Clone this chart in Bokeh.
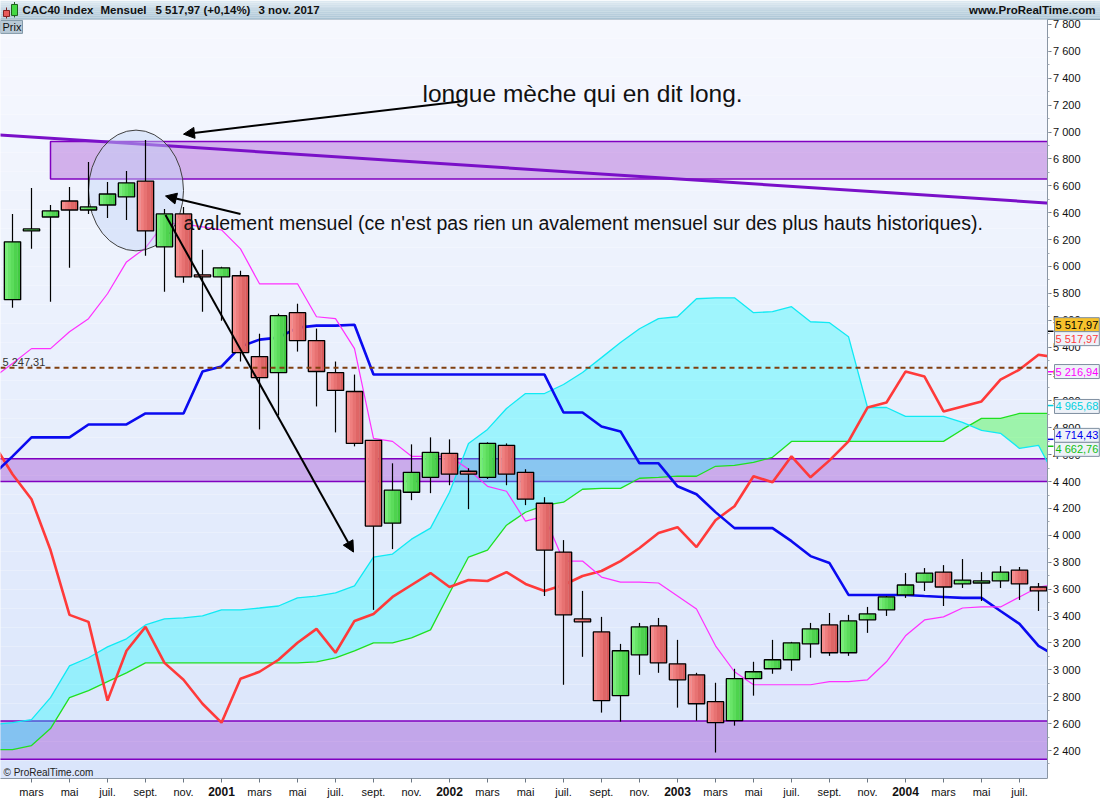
import numpy as np
from bokeh.plotting import figure
from bokeh.models import Range1d, FixedTicker, Label, Arrow, NormalHead, LinearAxis
from bokeh.core.properties import value
from bokeh.embed import file_html
from bokeh.resources import INLINE

FONT = "Liberation Sans"

# ---------------- data (month index: 0 = janv. 2000, 1 = févr. 2000, ...) ----------------
candle_month = list(range(1, 56))
opens = [5753, 6264, 6368, 6487, 6420, 6457, 6517, 6635, 6146, 6391,
         5938, 5923, 5931, 5330, 5211, 5656, 5449, 5211, 5070, 4707,
         4091, 4321, 4432, 4610, 4477, 4432, 4670, 4469, 4239, 3876,
         3379, 3282, 2808, 3112, 3327, 3045, 2963, 2763, 2622, 2934,
         3008, 3075, 3193, 3334, 3127, 3372, 3446, 3557, 3653, 3727,
         3639, 3646, 3661, 3742, 3616]
highs = [6391, 6583, 6457, 6591, 6776, 6628, 6710, 6940, 6428, 6443,
         6124, 5997, 5968, 5500, 5649, 5723, 5538, 5293, 5196, 4707,
         4536, 4677, 4729, 4714, 4499, 4692, 4684, 4492, 4284, 3965,
         3587, 3394, 3193, 3349, 3386, 3223, 2978, 2904, 3008, 3060,
         3223, 3208, 3349, 3423, 3409, 3468, 3549, 3720, 3757, 3779,
         3824, 3727, 3772, 3765, 3646]
lows = [5693, 6131, 5738, 5990, 6391, 6361, 6346, 6079, 5812, 5879,
        5664, 5597, 5293, 4788, 4892, 5367, 4959, 4766, 4662, 3446,
        3898, 4262, 4314, 4373, 4195, 4420, 4373, 4225, 3549, 2889,
        3097, 2682, 2615, 2963, 2978, 2719, 2622, 2385, 2585, 2808,
        2971, 2993, 3090, 3104, 3104, 3275, 3401, 3535, 3587, 3475,
        3609, 3512, 3609, 3520, 3438]
closes = [6183, 6279, 6413, 6420, 6443, 6539, 6621, 6264, 6391, 5923,
          5923, 5990, 5359, 5174, 5634, 5449, 5219, 5078, 4684, 4069,
          4336, 4469, 4618, 4455, 4455, 4684, 4455, 4269, 3891, 3409,
          3357, 2771, 3142, 3320, 3052, 2926, 2748, 2607, 2934, 2986,
          3075, 3201, 3305, 3127, 3364, 3416, 3542, 3631, 3720, 3616,
          3668, 3661, 3727, 3639, 3587]

line_month = list(range(0, 57))
tenkan = [5174, 5278, 5389, 5389, 5515, 5612, 5797, 6034, 6138, 6324,
          6316, 6294, 6272, 6131, 5871, 5871, 5871, 5626, 5612, 5389,
          4721, 4699, 4588, 4588, 4588, 4491, 4365, 4328, 4106, 4143,
          3809, 3809, 3690, 3653, 3653, 3646, 3549, 3453, 3179, 2986,
          2889, 2889, 2889, 2889, 2912, 2912, 2926, 3060, 3253, 3371,
          3394, 3460, 3468, 3468, 3542, 3616, 3638]
kijun = [4454, 4588, 4729, 4729, 4729, 4825, 4825, 4825, 4907, 4907,
         4907, 5218, 5256, 5404, 5456, 5471, 5545, 5560, 5560, 5567,
         5196, 5196, 5196, 5196, 5196, 5196, 5196, 5196, 5196, 5196,
         4914, 4914, 4810, 4773, 4536, 4536, 4365, 4306, 4173, 4054,
         4054, 4054, 3957, 3846, 3794, 3557, 3557, 3557, 3557, 3549,
         3542, 3535, 3535, 3438, 3342, 3179, 3097]
chikou = [4684, 4455, 4269, 3891, 3409, 3357, 2771, 3142, 3320, 3052,
          2926, 2748, 2607, 2934, 2986, 3075, 3201, 3305, 3127, 3364,
          3416, 3542, 3631, 3720, 3616, 3668, 3661, 3727, 3639, 3587,
          3631, 3698, 3735, 3809, 3906, 4017, 4061, 3913, 4113, 4217,
          4440, 4395, 4588, 4432, 4558, 4699, 4951, 4988, 5218, 5181,
          4922, 4959, 4996, 5159, 5233, 5344, 5322]
senkou_a = [2593, 2607, 2630, 2793, 3030, 3090, 3171, 3231, 3334, 3379,
            3386, 3401, 3446, 3446, 3460, 3475, 3535, 3549, 3572, 3624,
            3839, 3861, 3972, 4054, 4321, 4684, 4788, 4944, 5055, 5055,
            5122, 5211, 5322, 5434, 5537, 5612, 5626, 5760, 5767, 5767,
            5656, 5664, 5701, 5589, 5582, 5478, 4951, 4951, 4885, 4885,
            4885, 4840, 4781, 4759, 4647, 4670, 4402]
senkou_b = [2407, 2407, 2437, 2563, 2793, 2845, 2912, 2978, 3052, 3052,
            3052, 3052, 3052, 3052, 3052, 3052, 3052, 3060, 3089, 3141,
            3201, 3201, 3238, 3297, 3572, 3839, 3891, 4076, 4172, 4224,
            4247, 4343, 4350, 4350, 4425, 4432, 4440, 4440, 4514, 4521,
            4543, 4581, 4699, 4699, 4699, 4699, 4699, 4699, 4699, 4699,
            4699, 4788, 4870, 4870, 4907, 4907, 4907]

zone_high = (6650, 6930)
zone_mid = (4400, 4570)
zone_low = (2335, 2620)
support_level = 5247.31
trend_start = (-1, 6990)
trend_end = (57, 6458)

price_ticks = [2400, 2600, 2800, 3000, 3200, 3400, 3600, 3800, 4000, 4200,
               4400, 4600, 4800, 5000, 5200, 5400, 5600, 5800, 6000, 6200,
               6400, 6600, 6800, 7000, 7200, 7400, 7600, 7800]
price_tick_labels = ["2 400", "2 600", "2 800", "3 000", "3 200", "3 400", "3 600",
                     "3 800", "4 000", "4 200", "4 400", "4 600", "4 800", "5 000",
                     "5 200", "5 400", "5 600", "5 800", "6 000", "6 200", "6 400",
                     "6 600", "6 800", "7 000", "7 200", "7 400", "7 600", "7 800"]
price_minor = [2300 + 100 * k for k in range(56)]

month_tick_pos = [2, 4, 6, 8, 10, 12, 14, 16, 18, 20, 22, 24, 26, 28, 30, 32, 34, 36,
                  38, 40, 42, 44, 46, 48, 50, 52, 54]
month_tick_labels = ["mars", "mai", "juil.", "sept.", "nov.", "",
                     "mars", "mai", "juil.", "sept.", "nov.", "",
                     "mars", "mai", "juil.", "sept.", "nov.", "",
                     "mars", "mai", "juil.", "sept.", "nov.", "",
                     "mars", "mai", "juil."]
year_pos = [12, 24, 36, 48]
year_labels = ["2001", "2002", "2003", "2004"]

last_values = ["5 517,97", "5 517,97", "5 216,94", "4 965,68", "4 714,43", "4 662,76"]
last_value_levels = [5517.97, 5517.97, 5216.94, 4965.68, 4714.43, 4662.76]
last_value_colors = ["#000000", "#ff3c3c", "#ff00ff", "#00d0e0", "#0000ee", "#10c010"]


# ---------------- layout helpers (reference pixel -> data position) ----------------
def X(px):
    return (px + 7.0) / 19.0


def Y(py):
    return 7978.0 - 7.418 * py


p = figure(width=1100, height=800, x_range=Range1d(X(0), X(1100)), y_range=Range1d(Y(780), Y(0)),
           x_axis_location=None, y_axis_location=None, output_backend="svg",
           toolbar_location=None, min_border=0, min_border_left=0, min_border_right=0,
           min_border_top=0, min_border_bottom=20, outline_line_color=None,
           background_fill_color="white", border_fill_color="white")
p.grid.visible = False


def hexcol(c):
    return "#%02x%02x%02x" % tuple(int(round(v)) for v in c)


# header bar
nh = 10
hy = np.linspace(0, 19, nh + 1)
h_top, h_bot = np.array([224, 235, 243]), np.array([170, 196, 212])
p.quad(left=X(-2), right=X(1102), top=[Y(v) for v in hy[:-1]], bottom=[Y(v) for v in hy[1:]],
       fill_color=[hexcol(h_top + (h_bot - h_top) * (i + 0.5) / nh) for i in range(nh)],
       line_color=None)
p.segment(x0=X(-2), y0=Y(19), x1=X(1102), y1=Y(19), line_color="#7f97a8", line_width=1)
p.segment(x0=[X(6), X(14)], y0=[Y(7), Y(1.5)], x1=[X(6), X(14)], y1=[Y(18), Y(17)],
          line_color=["#802020", "#206020"], line_width=1)
p.quad(left=[X(3), X(11)], right=[X(9), X(17)], top=[Y(10), Y(4)], bottom=[Y(16), Y(15)],
       fill_color=["#e85a5a", "#44d844"], line_color=["#802020", "#206020"], line_width=1)
p.text(x=[X(22), X(100), X(155), X(258)], y=[Y(10)] * 4,
       text=["CAC40 Index", "Mensuel", "5 517,97 (+0,14%)", "3 nov. 2017"],
       text_font=value(FONT), text_font_size="11.5px", text_font_style="bold",
       text_baseline="middle", text_color="#111111")
p.text(x=[X(1095)], y=[Y(10)], text=["www.ProRealTime.com"], text_font=value(FONT),
       text_font_size="11.5px", text_font_style="bold", text_align="right",
       text_baseline="middle", text_color="#111111")

# plot background gradient
nb = 40
by = np.linspace(781, 19, nb + 1)
b_bot, b_top = np.array([218, 229, 251]), np.array([246, 248, 254])
p.quad(left=X(-2), right=X(1047), bottom=[Y(v) for v in by[:-1]], top=[Y(v) for v in by[1:]],
       fill_color=[hexcol(b_bot + (b_top - b_bot) * (i + 0.5) / nb) for i in range(nb)],
       line_color=None)

# purple zones
ZC = "#8000c0"
p.quad(left=[3, -2, -2], right=[60, 60, 60],
       bottom=[zone_high[0], zone_mid[0], zone_low[0]],
       top=[zone_high[1], zone_mid[1], zone_low[1]],
       fill_color=ZC, fill_alpha=0.28, line_color=ZC, line_width=1.5)

# ichimoku cloud
xm = np.array(line_month, dtype=float)
a = np.array(senkou_a, dtype=float)
b = np.array(senkou_b, dtype=float)
cx, ca, cb = [], [], []
for i in range(len(xm) - 1):
    cx.append(xm[i]); ca.append(a[i]); cb.append(b[i])
    d0 = a[i] - b[i]
    d1 = a[i + 1] - b[i + 1]
    if d0 * d1 < 0:
        t = d0 / (d0 - d1)
        xc = xm[i] + t * (xm[i + 1] - xm[i])
        yc = a[i] + t * (a[i + 1] - a[i])
        cx.append(xc); ca.append(yc); cb.append(yc)
cx.append(xm[-1]); ca.append(a[-1]); cb.append(b[-1])
cx = np.array(cx); ca = np.array(ca); cb = np.array(cb)
cmax = np.maximum(ca, cb)
p.varea(x=cx, y1=cb, y2=cmax, fill_color="#00ffff", fill_alpha=0.32)
p.varea(x=cx, y1=ca, y2=cmax, fill_color="#00ff00", fill_alpha=0.32)

# ichimoku lines
p.line(line_month, senkou_b, line_color="#20e020", line_width=1.3)
p.line(line_month, senkou_a, line_color="#10eaf4", line_width=1.3)
p.line(line_month, chikou, line_color="#ff3a3a", line_width=2.6)
p.line(line_month, kijun, line_color="#0a0af0", line_width=2.6)
p.line(line_month, tenkan, line_color="#ff30ff", line_width=1.2)

# trend line
p.segment(x0=[trend_start[0]], y0=[trend_start[1]], x1=[trend_end[0]], y1=[trend_end[1]],
          line_color="#7a10c8", line_width=3)

# ellipse highlight
p.ellipse(x=[7.5], y=[6565], width=[5.0], height=[898], fill_color="#c4d4f6",
          fill_alpha=0.45, line_color="#404040", line_width=1)

# candles
cm = np.array(candle_month, dtype=float)
o = np.array(opens, dtype=float)
c = np.array(closes, dtype=float)
top = np.maximum(o, c)
bot = np.minimum(o, c)
up = c >= o
p.segment(x0=cm, y0=lows, x1=cm, y1=highs, line_color="black", line_width=1.2)
BW = 0.86
ns = 5
red_l, red_r = np.array([250, 145, 145]), np.array([212, 84, 84])
grn_l, grn_r = np.array([125, 242, 125]), np.array([58, 198, 58])
for k in range(ns):
    f = (k + 0.5) / ns
    rc = hexcol(red_l + (red_r - red_l) * f)
    gc = hexcol(grn_l + (grn_r - grn_l) * f)
    p.vbar(x=cm - BW / 2 + (k + 0.5) * BW / ns, width=BW / ns * 1.08, top=top, bottom=bot,
           fill_color=[gc if u else rc for u in up], line_color=None)
p.vbar(x=cm, width=BW, top=top, bottom=bot, fill_color=None, line_color="black", line_width=1.3)

# support dashed level
p.segment(x0=[X(0)], y0=[support_level], x1=[X(1047)], y1=[support_level],
          line_color="#804010", line_dash="5 4", line_width=2)

# white mask for the price-axis area
p.quad(left=[X(1047.5)], right=[X(1102)], bottom=[Y(802)], top=[Y(19.5)],
       fill_color="white", line_color=None)

# texts (centres placed so that baselines match the reference)
p.text(x=[X(422)], y=[Y(93.5)], text=["longue mèche qui en dit long."], text_font=value(FONT),
       text_font_size="24.5px", text_color="#111111", text_baseline="middle")
p.text(x=[X(183)], y=[Y(223.3)],
       text=["avalement mensuel (ce n'est pas rien un avalement mensuel sur des plus hauts historiques)."],
       text_font=value(FONT), text_font_size="19.5px", text_color="#111111", text_baseline="middle")
p.quad(left=[X(0)], right=[X(22)], bottom=[Y(33)], top=[Y(20)], fill_color="#b8c9d6",
       line_color="#8298a8", line_width=1)
p.text(x=[X(2)], y=[Y(26.5)], text=["Prix"], text_font=value(FONT), text_font_size="11px",
       text_baseline="middle", text_color="#111111")
p.text(x=[X(3)], y=[Y(774)], text=["© ProRealTime.com"], text_font=value(FONT),
       text_font_size="10px", text_baseline="middle", text_color="#222222")
p.text(x=[X(2)], y=[Y(362.5)], text=["5 247,31"], text_font=value(FONT), text_font_size="11px",
       text_baseline="middle", text_color="#333333")

# small coloured marks for last values on price axis
p.segment(x0=[X(1047)] * 5, y0=last_value_levels[1:], x1=[X(1053)] * 5, y1=last_value_levels[1:],
          line_color=["#000000"] + last_value_colors[2:], line_width=1.5)

# arrows
for (xs, ys, xe, ye) in [(X(462), Y(101), X(183), Y(134)),
                         (X(240), Y(214), X(165), Y(196)),
                         (X(165), Y(215), X(353), Y(553))]:
    p.add_layout(Arrow(end=NormalHead(size=11, fill_color="black", line_color="black"),
                       x_start=xs, y_start=ys, x_end=xe, y_end=ye,
                       line_color="black", line_width=2))

# ---------------- axes ----------------
yax = LinearAxis(fixed_location=X(1047), bounds=(Y(780), Y(19)),
                 ticker=FixedTicker(ticks=price_ticks, minor_ticks=price_minor),
                 major_label_overrides={t: s for t, s in zip(price_ticks, price_tick_labels)},
                 axis_line_color="#8a96a4", major_tick_line_color="#6a7684",
                 minor_tick_line_color="#a0a8b4", major_tick_in=4, major_tick_out=0,
                 minor_tick_in=2, minor_tick_out=0, major_label_standoff=-33,
                 major_label_text_font=FONT, major_label_text_font_size="11px",
                 major_label_text_color="#111111")
p.add_layout(yax, "left")

xax = LinearAxis(bounds=(X(0), X(1047)),
                 ticker=FixedTicker(ticks=month_tick_pos, minor_ticks=[]),
                 major_label_overrides={t: s for t, s in zip(month_tick_pos, month_tick_labels)},
                 axis_line_color="#8a96a4", major_tick_line_color="#6a7684",
                 major_tick_in=0, major_tick_out=4, major_label_standoff=3,
                 major_label_text_font=FONT, major_label_text_font_size="11px",
                 major_label_text_color="#111111")
p.add_layout(xax, "below")

yrax = LinearAxis(ticker=FixedTicker(ticks=year_pos, minor_ticks=[]),
                  major_label_overrides={t: s for t, s in zip(year_pos, year_labels)},
                  axis_line_color=None, major_tick_line_color=None, minor_tick_line_color=None,
                  major_tick_in=0, major_tick_out=0, major_label_standoff=-14,
                  major_label_text_font=FONT, major_label_text_font_size="12px",
                  major_label_text_font_style="bold", major_label_text_color="#111111")
p.add_layout(yrax, "below")

# last value boxes on the price axis
box_centers = [325, 339, 372, 407, 436, 450]
for i, (txt, cy, col) in enumerate(zip(last_values, box_centers, last_value_colors)):
    p.add_layout(Label(x=X(1054), y=Y(cy), text=txt, text_font=FONT, text_font_size="11px",
                       text_align="left", text_baseline="middle", text_color=col,
                       background_fill_color="#f7c22c" if i == 0 else "#eef2f8",
                       border_line_color="#7f8fa0", border_line_width=1, padding=1))

open("out.html", "w").write(file_html(p, INLINE))
